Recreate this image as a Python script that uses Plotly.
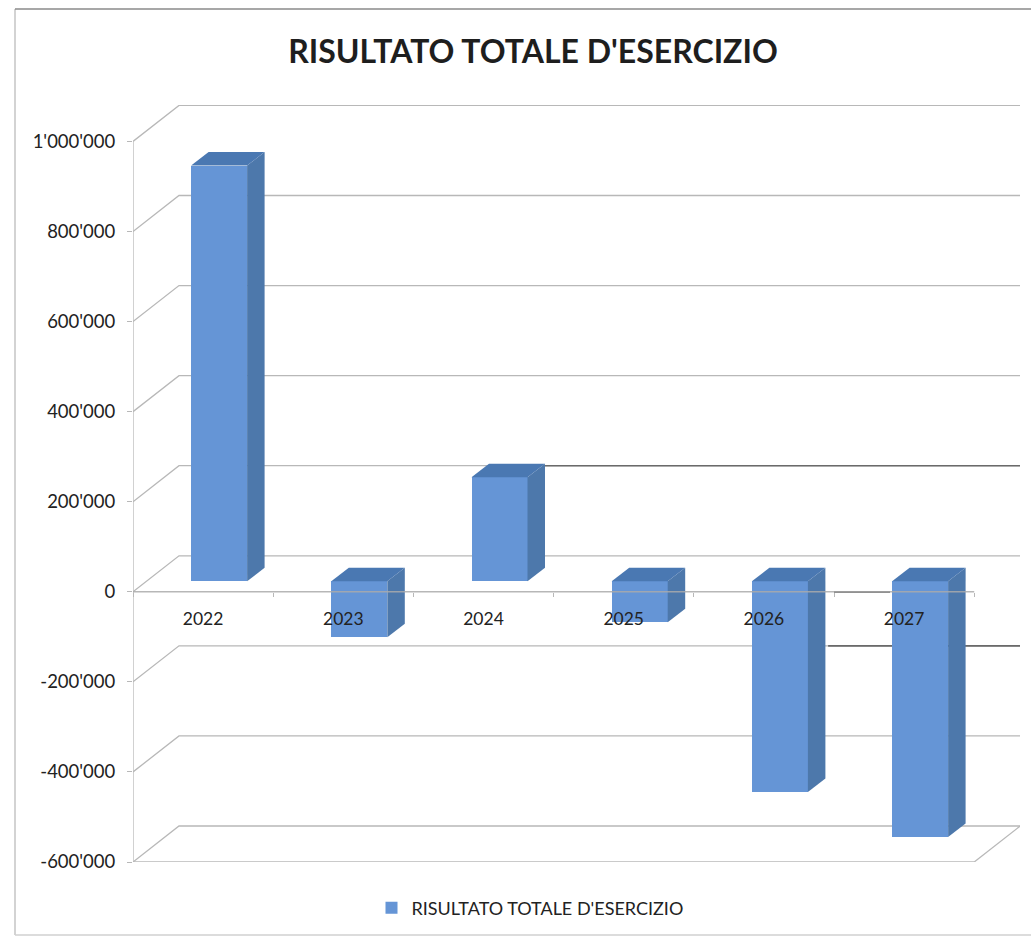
import plotly.graph_objects as go

TITLE = "RISULTATO TOTALE D'ESERCIZIO"
categories = ["2022", "2023", "2024", "2025", "2026", "2027"]
values = [923000, -124000, 231000, -91000, -468000, -568000]
y_ticks = [1000000, 800000, 600000, 400000, 200000, 0, -200000, -400000, -600000]
y_labels = ["1'000'000", "800'000", "600'000", "400'000", "200'000", "0", "-200'000", "-400'000", "-600'000"]
# scan-darkened stretches of gridlines: value, from, to (category units)
dark_back = [(200000, 2.6, 6.0), (-200000, 4.63, 6.0)]
dark_front = [(0, 5.0, 5.4)]

W, H = 1031, 937
L, R, T, B = 133, 1020, 105, 862
PX_X = 140.2          # px per category
PX_Y = 90.07 / 200000 # px per value unit
x_top = (R - L) / PX_X
y_bottom = -600000
y_top = y_bottom + (B - T) / PX_Y

WALL_DX = 46 / PX_X
WALL_DY = 36 / PX_Y
BAR_W = 56 / PX_X
BAR_OFF_X = 16 / PX_X
BAR_OFF_Y = 10.5 / PX_Y
BAR_DX = 17.5 / PX_X
BAR_DY = 13.5 / PX_Y

GRID = "#b8b8b8"
FRONT = "#6595d6"
SIDE = "#4d78ab"
TOP = "#4a78b2"
TEXT = "#222222"
FONT = "Lato"

fig = go.Figure()


def line(xs, ys, color=GRID, width=1.3, axes=("x", "y"), dash=None):
    fig.add_trace(go.Scatter(x=xs, y=ys, mode="lines", showlegend=False, hoverinfo="skip",
                             xaxis=axes[0], yaxis=axes[1], cliponaxis=False,
                             line=dict(color=color, width=width, dash=dash)))


n = len(categories)
# walls and floor behind the bars
line([0, 0], [y_bottom, max(y_ticks)])
for v in y_ticks:
    line([0, WALL_DX, n + WALL_DX], [v, v + WALL_DY, v + WALL_DY])
line([0, n], [y_bottom, y_bottom])
line([n, n + WALL_DX], [y_bottom, y_bottom + WALL_DY])
for v, a, b in dark_back:
    line([a + WALL_DX, b + WALL_DX], [v + WALL_DY, v + WALL_DY], color="#6a6a6a", width=1.6)
for v, a, b in dark_front:
    line([a, b], [v, v], color="#555555", width=1.8)

# bars (front faces), on an overlaid subplot so they cover the grid
centers = [i + 0.5 + BAR_OFF_X for i in range(n)]
fig.add_trace(go.Bar(x=centers, y=values, base=[BAR_OFF_Y] * n, width=BAR_W,
                     marker=dict(color=FRONT, line=dict(width=0)),
                     name=TITLE, xaxis="x2", yaxis="y2", hoverinfo="skip"))

for c, v in zip(centers, values):
    x0, x1 = c - BAR_W / 2, c + BAR_W / 2
    hi = max(v, 0) + BAR_OFF_Y
    lo = min(v, 0) + BAR_OFF_Y
    fig.add_trace(go.Scatter(
        x=[x1, x1 + BAR_DX, x1 + BAR_DX, x1, x1], y=[lo, lo + BAR_DY, hi + BAR_DY, hi, lo],
        mode="lines", fill="toself", fillcolor=SIDE, line=dict(width=0, color=SIDE),
        showlegend=False, hoverinfo="skip", xaxis="x2", yaxis="y2", cliponaxis=False))
    fig.add_trace(go.Scatter(
        x=[x0, x1, x1 + BAR_DX, x0 + BAR_DX, x0], y=[hi, hi, hi + BAR_DY, hi + BAR_DY, hi],
        mode="lines", fill="toself", fillcolor=TOP, line=dict(width=0, color=TOP),
        showlegend=False, hoverinfo="skip", xaxis="x2", yaxis="y2", cliponaxis=False))

# front zero line passes over the bars
line([0, n], [0, 0], color="rgba(170,170,170,0.85)", width=1.4, axes=("x2", "y2"))


def px(x):
    return (x - L) / (R - L)


def py(y):
    return (B - y) / (B - T)


frame = dict(type="line", xref="paper", yref="paper", layer="below")
shapes = [
    dict(frame, x0=px(15), x1=px(15), y0=py(9), y1=py(935), line=dict(color="#c4c4c4", width=1.5)),
    dict(frame, x0=px(15), x1=px(W), y0=py(9), y1=py(9), line=dict(color="#8a8a8a", width=1.5)),
    dict(frame, x0=px(15), x1=px(W), y0=py(935), y1=py(935), line=dict(color="#d0d0d0", width=1.5)),
]

fig.update_layout(
    width=W, height=H, autosize=False,
    margin=dict(l=L, r=W - R, t=T, b=H - B, pad=0),
    paper_bgcolor="white", plot_bgcolor="rgba(0,0,0,0)",
    font=dict(family=FONT, color=TEXT, size=16),
    title=dict(text="<b>" + TITLE + "</b>", x=533 / W, xanchor="center", y=1 - 52 / H, yanchor="middle",
               font=dict(family=FONT, size=32, color="#1e1e1e")),
    showlegend=True,
    legend=dict(x=px(530), xanchor="center", y=py(908), yanchor="middle", orientation="h",
                font=dict(family=FONT, size=18, color=TEXT), bgcolor="rgba(0,0,0,0)"),
    bargap=0,
    shapes=shapes,
    xaxis=dict(range=[0, x_top], anchor="free", position=(B - (B - (0 - y_bottom) * PX_Y)) / (B - T),
               tickmode="array", tickvals=[i + 0.5 for i in range(n)], ticktext=categories,
               ticks="", showline=False, showgrid=False, zeroline=False, ticklabelstandoff=15,
               tickfont=dict(family=FONT, size=17.5, color=TEXT),
               minor=dict(tickmode="array", tickvals=list(range(n + 1)), ticks="outside",
                          ticklen=4, tickcolor=GRID, tickwidth=1.2, showgrid=False)),
    yaxis=dict(range=[y_bottom, y_top], tickmode="array", tickvals=y_ticks, ticktext=y_labels,
               ticks="outside", ticklen=5, tickcolor=GRID, tickwidth=1.2, showline=False,
               showgrid=False, zeroline=False, ticklabelstandoff=8,
               tickfont=dict(family=FONT, size=18.5, color=TEXT)),
    xaxis2=dict(range=[0, x_top], overlaying="x", visible=False, anchor="y2"),
    yaxis2=dict(range=[y_bottom, y_top], overlaying="y", visible=False, anchor="x2"),
)

fig.write_html("out.html", config={"displayModeBar": False},
               post_script="document.body.style.margin='0';")
